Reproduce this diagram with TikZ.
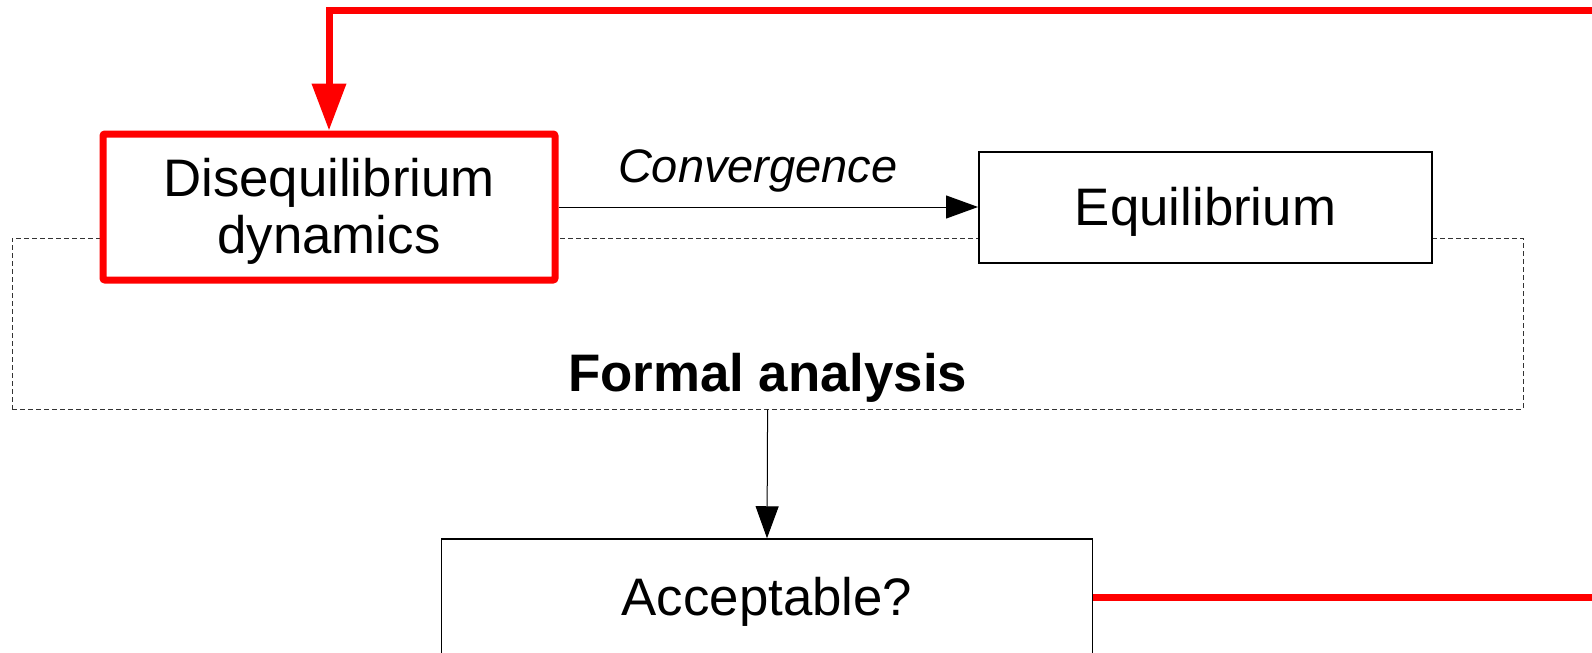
\documentclass[tikz,border=0pt]{standalone}
\usepackage{fontspec}
\setmainfont{Liberation Sans}
\usetikzlibrary{arrows.meta}

\begin{document}
\begin{tikzpicture}[x=0.5pt, y=-0.5pt,
        box/.style={draw, fill=white, line width=0.75pt, inner sep=0pt, align=center,
            font=\fontsize{26.4}{28.5}\selectfont, text height=23.9pt, text depth=5.6pt},
        redbox/.style={box, draw=red, line width=3.5pt, rounded corners=1pt, text height=52.4pt},
        panel/.style={draw=black!80, line width=0.5pt, dash pattern=on 2.4pt off 1.6pt, inner sep=0pt},
        flow/.style={line width=0.5pt, -{Triangle[length=16pt, width=11.5pt]}},
        feedback/.style={red, line width=3.5pt, -{Triangle[length=23.5pt, width=16.5pt]}}]
        \useasboundingbox (0,0) rectangle (1592,653);
        \clip (0,0) rectangle (1592,653);
        \coordinate (d) at (329, 207);
        \coordinate (e) at (1205.5, 207.5);
        \coordinate (f) at (767.6, 323.5);
        \coordinate (t) at (767.6, 373);
        \coordinate (a) at (767, 597);
        \coordinate (r) at (1650, 10.3);
        \draw (f) node [panel, name=F, minimum width=755.4pt, minimum height=85.5pt] {};
        \draw (t) node [inner sep=0pt, font=\fontsize{26.4}{28.5}\selectfont\bfseries,
            text height=23.9pt, text depth=5.6pt, name=T] {Formal analysis};
        \draw (d) node [redbox, name=D, minimum width=226pt, minimum height=73pt] {Disequilibrium\\dynamics};
        \draw (e) node [box, name=E, minimum width=226.7pt, minimum height=55.7pt] {Equilibrium};
        \draw (a) node [box, name=A, minimum width=325.4pt, minimum height=58pt] {Acceptable?};
        \draw [flow] (D.east |- 0,207) -- (E.west |- 0,207)
            node [pos=0.475, above=7.2pt, anchor=south, inner sep=0pt, text depth=5pt,
                font=\fontsize{23.5}{26}\selectfont\itshape, name=C] {Convergence};
        \draw [flow] (F.south) -- (A.north);
        \draw [feedback] (A.east) -| (r) -| (D.north);
    \end{tikzpicture}
\end{document}
